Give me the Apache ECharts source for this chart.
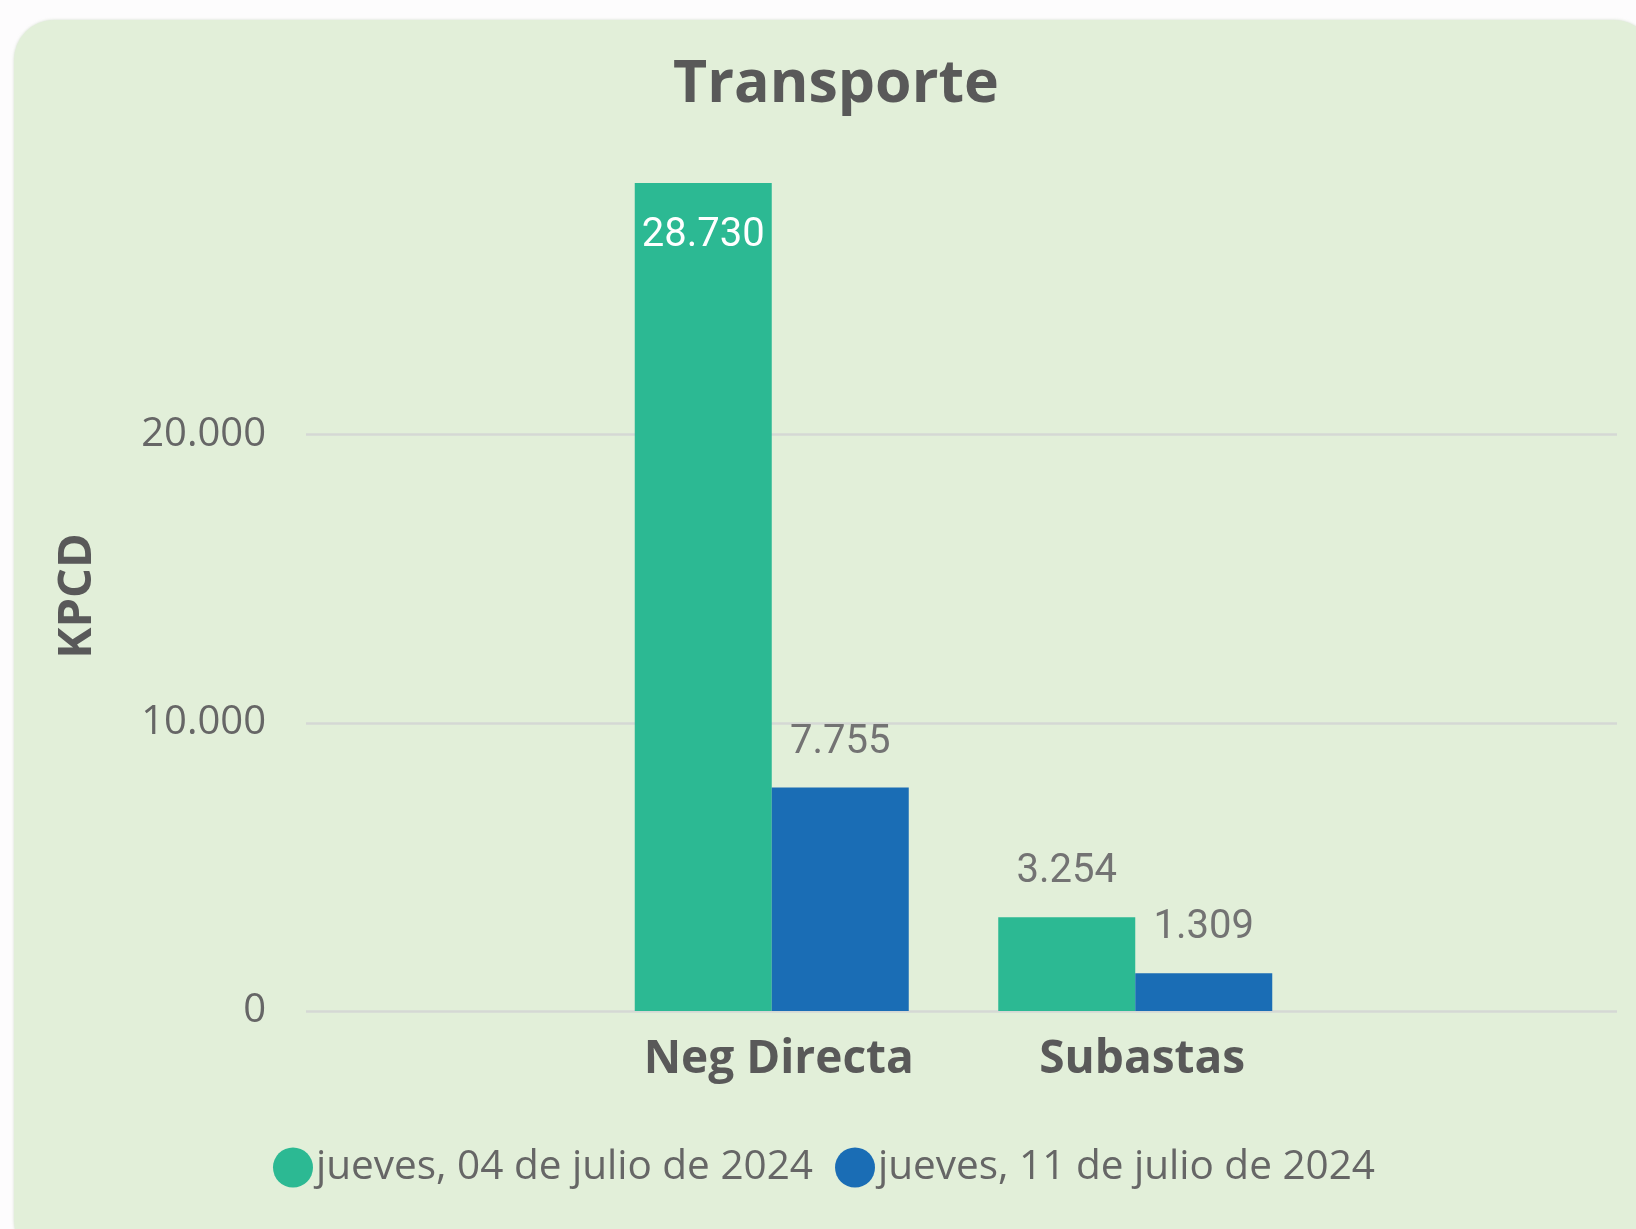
<!DOCTYPE html>
<html>
<head>
<meta charset="utf-8">
<title>Transporte</title>
<script src="https://cdn.jsdelivr.net/npm/echarts@6/dist/echarts.min.js"></script>
<style>
html, body { margin: 0; padding: 0; background: #fdfcfd; }
.panel {
  position: absolute; left: 14px; top: 20px; width: 1640px; height: 1240px;
  background: #e2efd9; border-radius: 40px;
  box-shadow: 0 0 3px rgba(180, 200, 170, 0.6);
}
#main { position: absolute; left: 0; top: 0; width: 1636px; height: 1229px; }
</style>
</head>
<body>
<div class="panel"></div>
<div id="main"></div>
<script>
// data
var categories = ['Neg Directa', 'Subastas'];
var seriesNames = ['jueves, 04 de julio de 2024', 'jueves, 11 de julio de 2024'];
var valuesJul04 = [28730, 3254];
var valuesJul11 = [7755, 1309];
var yTicks = [0, 10000, 20000];

var green = '#2cb993';
var blue = '#1a6db5';
var grey = '#595959';

function fmt(v) {
  return String(v).replace(/\B(?=(\d{3})+(?!\d))/g, '.');
}

function barData(values) {
  return values.map(function (v) {
    var inside = v > 20000;
    return {
      value: v,
      label: {
        position: inside ? 'insideTop' : 'top',
        distance: inside ? 33 : 25,
        color: inside ? '#ffffff' : '#737373'
      }
    };
  });
}

var chart = echarts.init(document.getElementById('main'));
var yMax = 28800;

var option = {
  backgroundColor: 'transparent',
  animation: false,
  title: {
    text: 'Transporte',
    left: 831,
    top: 51,
    textAlign: 'center',
    textStyle: { fontFamily: 'Open Sans', fontWeight: 'bold', fontSize: 59, color: grey }
  },
  legend: {
    left: 268,
    top: 1142,
    icon: 'circle',
    itemWidth: 40,
    itemHeight: 40,
    itemGap: 22,
    textStyle: { fontFamily: 'Open Sans', fontSize: 40.5, color: '#666666', padding: [0, 0, 0, -2] },
    data: seriesNames
  },
  grid: [
    // gridlines + y axis, full width
    { left: 306, right: 19, top: 181, bottom: 218 },
    // bars, narrower category band
    { left: 590, right: 319, top: 181, bottom: 218 }
  ],
  xAxis: [
    { gridIndex: 0, type: 'value', min: 0, max: 1, show: false },
    {
      gridIndex: 1,
      type: 'category',
      data: categories,
      axisLine: { show: false },
      axisTick: { show: false },
      axisLabel: {
        margin: 26,
        fontFamily: 'Open Sans', fontWeight: 'bold', fontSize: 46, color: grey,
        padding: [0, 0, 0, 14]
      }
    }
  ],
  yAxis: [
    {
      gridIndex: 0,
      type: 'value',
      min: yTicks[0],
      max: yMax,
      interval: yTicks[1] - yTicks[0],
      name: 'KPCD',
      nameLocation: 'middle',
      nameRotate: 90,
      nameGap: 205,
      nameTextStyle: { fontFamily: 'Open Sans', fontWeight: 'bold', fontSize: 47, color: grey },
      axisLine: { show: false },
      axisTick: { show: false },
      axisLabel: {
        margin: 40,
        showMaxLabel: false,
        fontFamily: 'Open Sans', fontSize: 40, color: '#666666',
        formatter: function (v) { return yTicks.indexOf(v) >= 0 ? fmt(v) : ''; }
      },
      splitLine: { show: true, showMaxLine: false, lineStyle: { color: '#d5d8d4', width: 2.5 } }
    },
    { gridIndex: 1, type: 'value', min: 0, max: yMax, show: false }
  ],
  series: [
    {
      name: seriesNames[0],
      type: 'bar',
      xAxisIndex: 1,
      yAxisIndex: 1,
      barWidth: 137,
      barGap: '0%',
      itemStyle: { color: green },
      label: { show: true, fontFamily: 'Roboto', fontSize: 40, formatter: function (p) { return fmt(p.value); } },
      data: barData(valuesJul04)
    },
    {
      name: seriesNames[1],
      type: 'bar',
      xAxisIndex: 1,
      yAxisIndex: 1,
      barWidth: 137,
      barGap: '0%',
      itemStyle: { color: blue },
      label: { show: true, fontFamily: 'Roboto', fontSize: 40, formatter: function (p) { return fmt(p.value); } },
      data: barData(valuesJul11)
    }
  ]
};

chart.setOption(option);
</script>
</body>
</html>
